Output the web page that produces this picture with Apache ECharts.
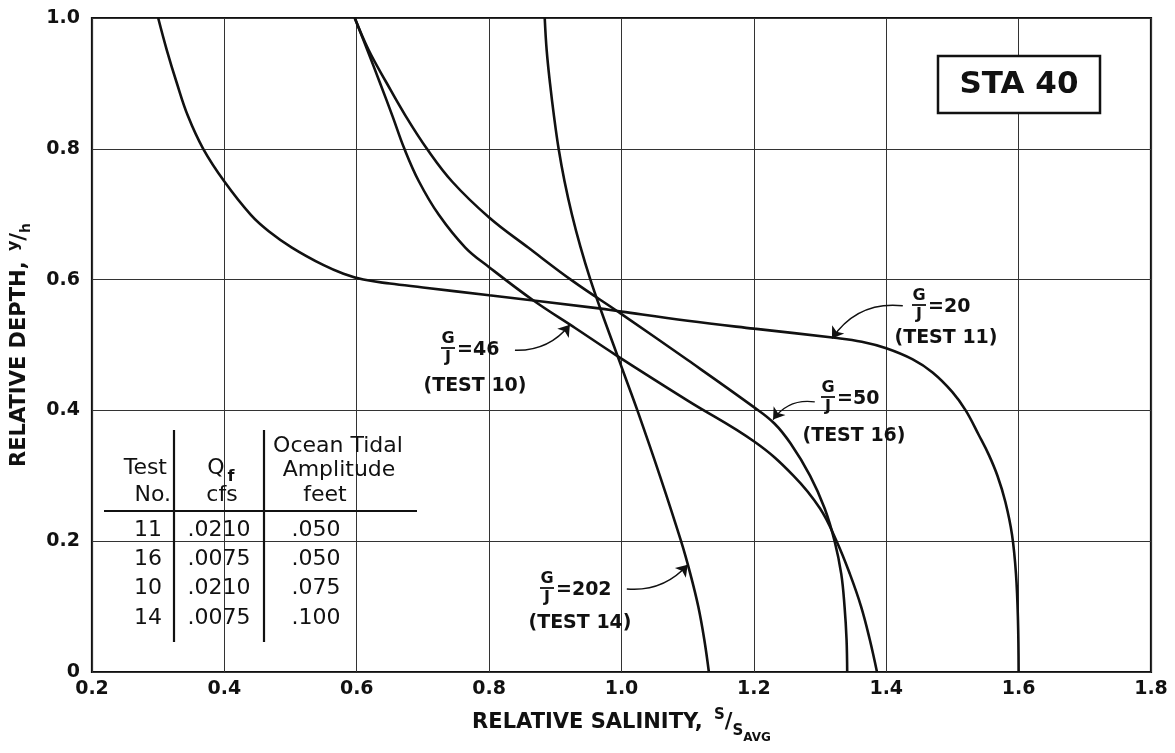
<!DOCTYPE html>
<html>
<head>
<meta charset="utf-8">
<script src="https://cdn.jsdelivr.net/npm/echarts@6/dist/echarts.min.js"></script>
<style>
  html, body { margin: 0; padding: 0; background: #fff; }
  #chart { width: 1175px; height: 753px; }
</style>
</head>
<body>
<div id="chart"></div>
<script>
// ---- Axis ticks ----
const xTicks = [0.2, 0.4, 0.6, 0.8, 1.0, 1.2, 1.4, 1.6, 1.8];
const yTicks = [0, 0.2, 0.4, 0.6, 0.8, 1.0];

// ---- Curves: [relative salinity s/s_avg, relative depth y/h] ----
const test11 = [ // G/J = 20
  [0.300, 1.0], [0.313, 0.951], [0.328, 0.901], [0.345, 0.85], [0.368, 0.80],
  [0.40, 0.75], [0.44, 0.699], [0.467, 0.674], [0.502, 0.649], [0.55, 0.622],
  [0.58, 0.609], [0.61, 0.600], [0.65, 0.594], [0.70, 0.588], [0.80, 0.576],
  [0.966, 0.556], [1.0, 0.551], [1.10, 0.537], [1.20, 0.525], [1.322, 0.511],
  [1.363, 0.505], [1.40, 0.495], [1.44, 0.478], [1.47, 0.458], [1.50, 0.428],
  [1.52, 0.40], [1.54, 0.362], [1.555, 0.332], [1.568, 0.30], [1.58, 0.26],
  [1.59, 0.21], [1.596, 0.15], [1.599, 0.08], [1.60, 0.0]
];
const test16 = [ // G/J = 50
  [0.597, 1.0], [0.618, 0.951], [0.645, 0.901], [0.674, 0.85], [0.706, 0.80],
  [0.744, 0.75], [0.80, 0.695], [0.859, 0.649], [0.926, 0.598], [0.999, 0.548],
  [1.10, 0.477], [1.20, 0.405], [1.231, 0.38], [1.255, 0.35], [1.285, 0.30],
  [1.307, 0.25], [1.322, 0.20], [1.332, 0.15], [1.337, 0.10], [1.340, 0.05],
  [1.341, 0.0]
];
const test10 = [ // G/J = 46
  [0.597, 1.0], [0.616, 0.951], [0.635, 0.901], [0.654, 0.85], [0.672, 0.80],
  [0.694, 0.75], [0.724, 0.699], [0.764, 0.649], [0.80, 0.619], [0.867, 0.568],
  [0.93, 0.526], [0.991, 0.485], [1.10, 0.415], [1.201, 0.352], [1.26, 0.30],
  [1.30, 0.25], [1.325, 0.20], [1.345, 0.15], [1.362, 0.10], [1.375, 0.05],
  [1.386, 0.0]
];
const test14 = [ // G/J = 202
  [0.884, 1.0], [0.887, 0.95], [0.892, 0.90], [0.898, 0.85], [0.905, 0.80],
  [0.914, 0.75], [0.925, 0.70], [0.938, 0.65], [0.953, 0.60], [0.970, 0.55],
  [0.988, 0.50], [1.006, 0.45], [1.024, 0.40], [1.058, 0.30], [1.09, 0.20],
  [1.104, 0.15], [1.116, 0.10], [1.125, 0.05], [1.132, 0.0]
];

// ---- Leader arrows (label -> curve), in data units ----
const arrow11 = [[1.425, 0.560], [1.318, 0.510]];
const arrow10 = [[0.839, 0.492], [0.922, 0.531]];
const arrow16 = [[1.292, 0.413], [1.229, 0.386]];
const arrow14 = [[1.008, 0.127], [1.100, 0.164]];

// ---- Table ----
const tableTests = ['11', '16', '10', '14'];
const tableQf = ['.0210', '.0075', '.0210', '.0075'];
const tableAmp = ['.050', '.050', '.075', '.100'];

const FONT = '"DejaVu Sans", "Liberation Sans", sans-serif';
const INK = '#111';

const chart = echarts.init(document.getElementById('chart'), null, { renderer: 'canvas' });

function curve(name, data) {
  return {
    name: name, type: 'line', data: data, smooth: 0.4, showSymbol: false, symbol: 'none',
    lineStyle: { color: INK, width: 2.6 }, z: 5, animation: false
  };
}

function txt(x, y, text, font, align, extra) {
  return Object.assign({
    type: 'text', x: x, y: y, z: 20,
    style: { text: text, font: font, fill: INK, textAlign: align || 'center', textVerticalAlign: 'middle' }
  }, extra || {});
}
function hline(x1, x2, y, w) {
  return { type: 'line', z: 20, shape: { x1: x1, y1: y, x2: x2, y2: y }, style: { stroke: INK, lineWidth: w || 2 } };
}
function vline(x, y1, y2, w) {
  return { type: 'line', z: 20, shape: { x1: x, y1: y1, x2: x, y2: y2 }, style: { stroke: INK, lineWidth: w || 2 } };
}
// fraction G over J followed by "=nn"
function fracLabel(cx, cy, rest, testText, tx, ty) {
  const small = 'bold 16px ' + FONT;
  const big = 'bold 19px ' + FONT;
  return [
    txt(cx, cy - 9, 'G', small),
    hline(cx - 7, cx + 7, cy, 1.8),
    txt(cx, cy + 10, 'J', small),
    txt(cx + 9, cy + 2, rest, big, 'left'),
    txt(tx, ty, testText, 'bold 19px ' + FONT)
  ];
}

const graphics = [];
// STA 40 box
graphics.push({ type: 'rect', z: 20, shape: { x: 938, y: 56, width: 162, height: 57 },
  style: { fill: '#fff', stroke: INK, lineWidth: 2.5 } });
graphics.push(txt(1019, 85, 'STA 40', 'bold 31px ' + FONT));

// Curve labels
graphics.push(...fracLabel(919, 305, '=20', '(TEST 11)', 946, 338));
graphics.push(...fracLabel(448, 348, '=46', '(TEST 10)', 475, 386));
graphics.push(...fracLabel(828, 397, '=50', '(TEST 16)', 854, 436));
graphics.push(...fracLabel(547, 588, '=202', '(TEST 14)', 580, 623));

// Table
const tf = '22px ' + FONT;
graphics.push(vline(174, 430, 642, 2.2));
graphics.push(vline(264, 430, 642, 2.2));
graphics.push(hline(104, 417, 511, 1.8));
graphics.push(txt(167, 468, 'Test', tf, 'right'));
graphics.push(txt(171, 495, 'No.', tf, 'right'));
graphics.push(txt(216, 468, 'Q', tf, 'center'));
graphics.push(txt(231, 477, 'f', 'bold 16px ' + FONT, 'center'));
graphics.push(txt(222, 495, 'cfs', tf, 'center'));
graphics.push(txt(338, 446, 'Ocean Tidal', tf, 'center'));
graphics.push(txt(339, 470, 'Amplitude', tf, 'center'));
graphics.push(txt(325, 495, 'feet', tf, 'center'));
const rowY = [530, 559, 588.5, 618];
for (let i = 0; i < tableTests.length; i++) {
  graphics.push(txt(162, rowY[i], tableTests[i], tf, 'right'));
  graphics.push(txt(219, rowY[i], tableQf[i], tf, 'center'));
  graphics.push(txt(316, rowY[i], tableAmp[i], tf, 'center'));
}

function arrowSeries(pairs) {
  return {
    type: 'lines', coordinateSystem: 'cartesian2d', z: 15, animation: false,
    symbol: ['none', 'arrow'], symbolSize: [1, 11],
    lineStyle: { color: INK, width: 1.4, opacity: 1 },
    data: pairs.map(p => ({ coords: p.coords, lineStyle: { curveness: p.c } }))
  };
}

const option = {
  animation: false,
  backgroundColor: '#fff',
  grid: { left: 92, right: 24, top: 18, bottom: 81, show: true, borderColor: INK, borderWidth: 2.2,
    backgroundColor: 'transparent', containLabel: false, outerBoundsMode: 'none' },
  xAxis: {
    type: 'value', min: xTicks[0], max: xTicks[xTicks.length - 1], interval: 0.2,
    axisLine: { show: false }, axisTick: { show: false },
    splitLine: { show: true, lineStyle: { color: '#333', width: 1 } },
    axisLabel: { margin: 8, color: INK, fontFamily: FONT, fontWeight: 'bold', fontSize: 19,
      formatter: v => v.toFixed(1) },
    name: 'RELATIVE SALINITY, {sup|S}{sl|/}{sub|S}{sub2|AVG}',
    nameLocation: 'middle', nameGap: 33,
    nameTextStyle: {
      color: INK, fontFamily: FONT, fontWeight: 'bold', fontSize: 21, lineHeight: 36,
      rich: {
        sup: { fontSize: 15, fontWeight: 'bold', fontFamily: FONT, color: INK, verticalAlign: 'top', lineHeight: 36, padding: [3, 0, 0, 4] },
        sl: { fontSize: 21, fontWeight: 'bold', fontFamily: FONT, color: INK, lineHeight: 36 },
        sub: { fontSize: 15, fontWeight: 'bold', fontFamily: FONT, color: INK, verticalAlign: 'bottom', lineHeight: 36, padding: [0, 0, 2, 0] },
        sub2: { fontSize: 12, fontWeight: 'bold', fontFamily: FONT, color: INK, verticalAlign: 'bottom', lineHeight: 36, padding: [0, 0, -3, 0] }
      }
    }
  },
  yAxis: {
    type: 'value', min: yTicks[0], max: yTicks[yTicks.length - 1], interval: 0.2,
    axisLine: { show: false }, axisTick: { show: false },
    splitLine: { show: true, lineStyle: { color: '#333', width: 1 } },
    axisLabel: { margin: 12, color: INK, fontFamily: FONT, fontWeight: 'bold', fontSize: 19,
      formatter: v => (v === 0 ? '0' : v.toFixed(1)) },
    name: 'RELATIVE DEPTH, {sup|y}{sl|/}{sub|h}',
    nameLocation: 'middle', nameGap: 50,
    nameTextStyle: {
      color: INK, fontFamily: FONT, fontWeight: 'bold', fontSize: 21, lineHeight: 32,
      rich: {
        sup: { fontSize: 16, fontWeight: 'bold', fontFamily: FONT, color: INK, verticalAlign: 'top', lineHeight: 32, padding: [2, 0, 0, 3] },
        sl: { fontSize: 21, fontWeight: 'bold', fontFamily: FONT, color: INK, lineHeight: 32 },
        sub: { fontSize: 14, fontWeight: 'bold', fontFamily: FONT, color: INK, verticalAlign: 'bottom', lineHeight: 32, padding: [0, 0, 2, 0] }
      }
    }
  },
  series: [
    curve('Test 11 (G/J=20)', test11),
    curve('Test 16 (G/J=50)', test16),
    curve('Test 10 (G/J=46)', test10),
    curve('Test 14 (G/J=202)', test14),
    arrowSeries([
      { coords: arrow11, c: -0.3 },
      { coords: arrow10, c: -0.25 },
      { coords: arrow16, c: -0.3 },
      { coords: arrow14, c: -0.25 }
    ])
  ],
  graphic: { elements: graphics }
};

chart.setOption(option);
</script>
</body>
</html>
